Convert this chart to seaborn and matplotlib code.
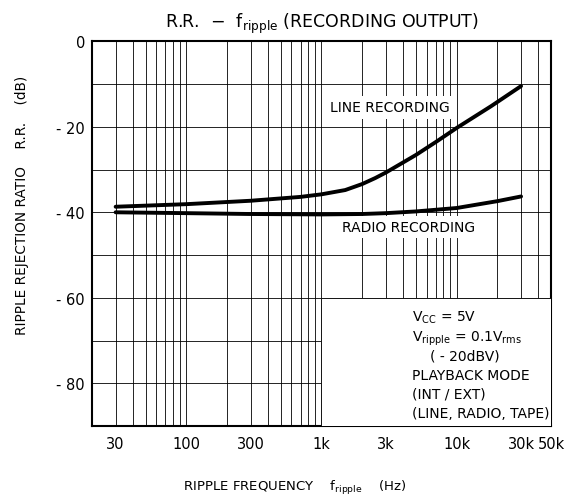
import numpy as np
import pandas as pd
import matplotlib
matplotlib.use("Agg")
import matplotlib.pyplot as plt
from matplotlib.patches import Rectangle
import seaborn as sns

# values
line_freq = [30, 100, 300, 700, 1000, 1500, 2000, 2500, 3000, 5000, 7000, 10000, 18000, 30000]
line_rr = [-38.7, -38.1, -37.3, -36.4, -35.8, -34.8, -33.4, -32.0, -30.7, -26.6, -23.6, -20.3, -15.2, -10.5]

radio_freq = [30, 100, 300, 1000, 2000, 3000, 5000, 10000, 20000, 30000]
radio_rr = [-40.0, -40.2, -40.4, -40.5, -40.4, -40.2, -39.8, -39.0, -37.4, -36.3]

xtick_vals = [30, 100, 300, 1000, 3000, 10000, 30000, 50000]
xtick_labels = ["30", "100", "300", "1k", "3k", "10k", "30k", "50k"]
ytick_vals = [0, -20, -40, -60, -80]
ytick_labels = ["0", "- 20", "- 40", "- 60", "- 80"]

df = pd.concat([
    pd.DataFrame({"freq": line_freq, "rr": line_rr, "mode": "LINE RECORDING"}),
    pd.DataFrame({"freq": radio_freq, "rr": radio_rr, "mode": "RADIO RECORDING"}),
])

sns.set_style("white")
plt.rcParams["font.family"] = ["DejaVu Sans"]
plt.rcParams["mathtext.fontset"] = "dejavusans"
plt.rcParams["text.color"] = "black"
plt.rcParams["xtick.color"] = "black"
plt.rcParams["ytick.color"] = "black"

fig = plt.figure(figsize=(5.74, 5.02), dpi=100)
ax = fig.add_axes([0.160, 0.149, 0.800, 0.767])

sns.lineplot(data=df, x="freq", y="rr", hue="mode", palette=["black", "black"],
             linewidth=2.8, legend=False, ax=ax, zorder=5)

ax.set_xscale("log")
ax.set_xlim(20, 50000)
ax.set_ylim(-90, 0)

# log grid 1..9 per decade
grid_x = [m * 10 ** e for e in range(1, 5) for m in range(1, 10)]
grid_x = [g for g in grid_x if 20 <= g <= 50000]
ax.set_xticks(grid_x, minor=True)
ax.set_xticks(xtick_vals)
ax.set_xticklabels(xtick_labels)
ax.set_yticks(np.arange(-90, 1, 10), minor=True)
ax.set_yticks(ytick_vals)
ax.set_yticklabels(ytick_labels)
ax.tick_params(which="both", length=0, labelsize=10.5, labelcolor="black")
ax.tick_params(axis="x", pad=7)
ax.tick_params(axis="y", pad=5)
ax.grid(which="both", color="black", linewidth=0.6)
ax.set_axisbelow(True)
ax.set_xlabel("")
ax.set_ylabel("")
for s in ax.spines.values():
    s.set_color("black")
    s.set_linewidth(1.5)

# white condition box in the lower right
ax.add_patch(Rectangle((1000, -90), 50000 - 1000, 30, facecolor="white",
                       edgecolor="black", linewidth=0.6, zorder=3))
cond = [
    (412, 318, r"V$_{\rm CC}$ = 5V"),
    (412, 339, r"V$_{\rm ripple}$ = 0.1V$_{\rm rms}$"),
    (430, 357, "( - 20dBV)"),
    (412, 376, "PLAYBACK MODE"),
    (412, 395, "(INT / EXT)"),
    (412, 414, "(LINE, RADIO, TAPE)"),
]
for px, py, t in cond:
    fig.text(px / 574, 1 - py / 502, t, fontsize=10, va="center", ha="left", zorder=6)

box = dict(facecolor="white", edgecolor="none", pad=3)
ax.text(1160, -15.5, "LINE RECORDING", fontsize=10, va="center", ha="left", bbox=box, zorder=4)
ax.text(1420, -43.4, "RADIO RECORDING", fontsize=10, va="center", ha="left", bbox=box, zorder=4)

ax.set_title(r"R.R.  $-$  f$_{\rm ripple}$ (RECORDING OUTPUT)", fontsize=12.5, pad=10)
fig.text(295 / 574, 1 - 488 / 502, r"RIPPLE FREQUENCY    f$_{\rm ripple}$    (Hz)",
         fontsize=9.5, ha="center", va="center")
fig.text(22 / 574, 1 - 205 / 502, "RIPPLE REJECTION RATIO    R.R.    (dB)",
         fontsize=9.8, ha="center", va="center", rotation=90)

fig.savefig("out.png", dpi=100)
